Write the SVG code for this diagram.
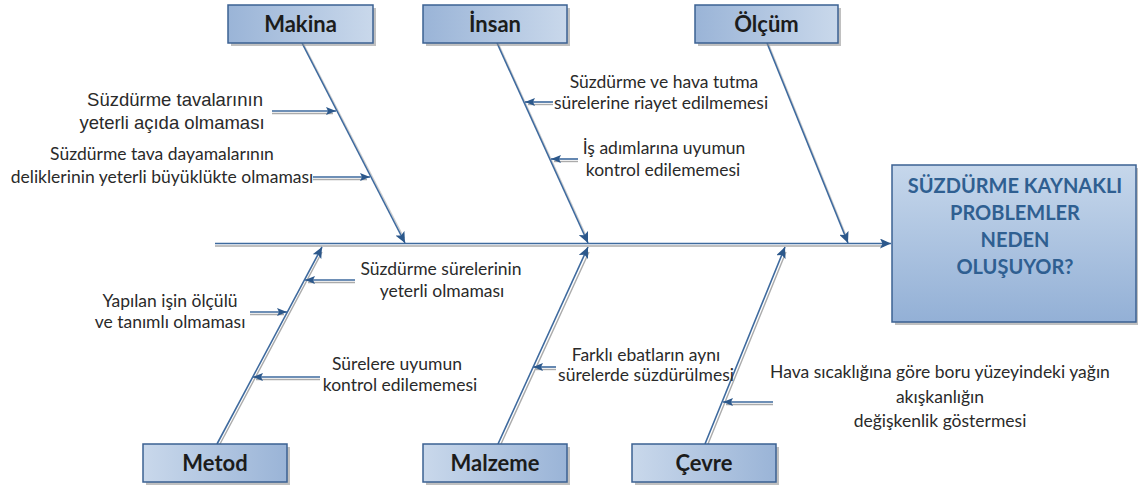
<svg xmlns="http://www.w3.org/2000/svg" width="1138" height="492" viewBox="0 0 1138 492">
<style>
.lbl{font-family:Lato,"Open Sans","Liberation Sans",sans-serif;font-size:17.5px;fill:#2a2a2a;text-anchor:middle}
.arial{font-family:"Liberation Sans",Arial,sans-serif;font-size:18.5px;fill:#2a2a2a;text-anchor:middle}
.cat{font-family:Lato,"Liberation Sans",sans-serif;font-weight:bold;font-size:22px;fill:#1c1c1c;text-anchor:middle}
.title{font-family:Lato,"Liberation Sans",sans-serif;font-weight:bold;font-size:20px;fill:#2F5F91;text-anchor:middle}
.box{stroke:#3B6192;stroke-width:1.5}
.shadow{fill:#8c8c8c;opacity:.55}
.ln{stroke:#3E6A9E;stroke-width:1.6;fill:none}
.sh{stroke:#ABABAB;stroke-width:1.4;fill:none}
</style>
<defs>
<linearGradient id="gTop" x1="0" y1="0" x2="1" y2="0"><stop offset="0" stop-color="#9AB4D7"/><stop offset="1" stop-color="#C9D8EB"/></linearGradient>
<linearGradient id="gBot" x1="0" y1="0" x2="1" y2="0"><stop offset="0" stop-color="#C9D8EB"/><stop offset="1" stop-color="#9AB4D7"/></linearGradient>
<linearGradient id="gMain" x1="0" y1="0" x2="0" y2="1"><stop offset="0" stop-color="#C6D7EB"/><stop offset="1" stop-color="#93B0D6"/></linearGradient>
<marker id="ah" markerUnits="userSpaceOnUse" markerWidth="12" markerHeight="10" refX="11" refY="5" orient="auto"><path d="M0,0 L11,5 L0,10 L2.5,5 z" fill="#2C588B"/></marker>
<marker id="ahs" markerUnits="userSpaceOnUse" markerWidth="10" markerHeight="8" refX="10" refY="4" orient="auto"><path d="M0,0 L10,4 L0,8 L2,4 z" fill="#2C588B"/></marker>
</defs>
<rect width="1138" height="492" fill="#ffffff"/>

<g id="connectors">
  <line class="sh" x1="215" y1="246" x2="884" y2="246"/>
  <line class="ln" x1="215" y1="243.5" x2="891" y2="243.5" marker-end="url(#ah)"/>
  <line class="sh" x1="303.5" y1="44" x2="404" y2="238" opacity=".6"/>
  <line class="ln" x1="302" y1="43" x2="405" y2="243" marker-end="url(#ah)"/>
  <line class="sh" x1="498.5" y1="44" x2="587" y2="238" opacity=".6"/>
  <line class="ln" x1="497" y1="43" x2="588" y2="243" marker-end="url(#ah)"/>
  <line class="sh" x1="768.5" y1="44" x2="847" y2="238" opacity=".6"/>
  <line class="ln" x1="767" y1="43" x2="848" y2="243" marker-end="url(#ah)"/>
  <line class="sh" x1="220" y1="444" x2="322" y2="252"/>
  <line class="ln" x1="217" y1="444" x2="322" y2="247" marker-end="url(#ah)"/>
  <line class="sh" x1="501" y1="444" x2="589" y2="252"/>
  <line class="ln" x1="498" y1="444" x2="588" y2="247" marker-end="url(#ah)"/>
  <line class="sh" x1="708" y1="444" x2="786" y2="252"/>
  <line class="ln" x1="705" y1="444" x2="785" y2="247" marker-end="url(#ah)"/>
  <line class="sh" x1="272" y1="113.5" x2="333" y2="113.5"/>
  <line class="ln" x1="272" y1="111" x2="336" y2="111" marker-end="url(#ahs)"/>
  <line class="sh" x1="313" y1="179.5" x2="367" y2="179.5"/>
  <line class="ln" x1="313" y1="177" x2="370" y2="177" marker-end="url(#ahs)"/>
  <line class="sh" x1="553" y1="104.5" x2="528" y2="104.5"/>
  <line class="ln" x1="553" y1="102" x2="525" y2="102" marker-end="url(#ahs)"/>
  <line class="sh" x1="578" y1="161.5" x2="554" y2="161.5"/>
  <line class="ln" x1="578" y1="159" x2="551" y2="159" marker-end="url(#ahs)"/>
  <line class="sh" x1="355" y1="282.5" x2="308" y2="282.5"/>
  <line class="ln" x1="355" y1="280" x2="305" y2="280" marker-end="url(#ahs)"/>
  <line class="sh" x1="250" y1="314.5" x2="284" y2="314.5"/>
  <line class="ln" x1="250" y1="312" x2="287" y2="312" marker-end="url(#ahs)"/>
  <line class="sh" x1="320" y1="379.5" x2="256" y2="379.5"/>
  <line class="ln" x1="320" y1="377" x2="253" y2="377" marker-end="url(#ahs)"/>
  <line class="sh" x1="556" y1="369.5" x2="536" y2="369.5"/>
  <line class="ln" x1="556" y1="367" x2="533" y2="367" marker-end="url(#ahs)"/>
  <line class="sh" x1="773" y1="404.5" x2="726" y2="404.5"/>
  <line class="ln" x1="773" y1="402" x2="723" y2="402" marker-end="url(#ahs)"/>
</g>

<g id="node-makina">
  <rect class="shadow" x="231" y="8" width="145" height="38"/>
  <rect class="box" x="228" y="5" width="145" height="38" fill="url(#gTop)"/>
  <text class="cat" x="300.5" y="32">Makina</text>
</g>
<g id="node-insan">
  <rect class="shadow" x="426" y="8" width="144" height="38"/>
  <rect class="box" x="423" y="5" width="144" height="38" fill="url(#gTop)"/>
  <text class="cat" x="495" y="32">İnsan</text>
</g>
<g id="node-olcum">
  <rect class="shadow" x="698" y="8" width="143" height="38"/>
  <rect class="box" x="695" y="5" width="143" height="38" fill="url(#gTop)"/>
  <text class="cat" x="766.5" y="32">Ölçüm</text>
</g>
<g id="node-metod">
  <rect class="shadow" x="146" y="447" width="144" height="38"/>
  <rect class="box" x="143" y="444" width="144" height="38" fill="url(#gBot)"/>
  <text class="cat" x="215" y="471">Metod</text>
</g>
<g id="node-malzeme">
  <rect class="shadow" x="426" y="447" width="144" height="38"/>
  <rect class="box" x="423" y="444" width="144" height="38" fill="url(#gBot)"/>
  <text class="cat" x="495" y="471">Malzeme</text>
</g>
<g id="node-cevre">
  <rect class="shadow" x="635" y="447" width="144" height="38"/>
  <rect class="box" x="632" y="444" width="144" height="38" fill="url(#gBot)"/>
  <text class="cat" x="704" y="471">Çevre</text>
</g>
<g id="node-problem">
  <rect class="shadow" x="895" y="168" width="243" height="157"/>
  <rect class="box" x="892" y="165" width="244" height="157" fill="url(#gMain)"/>
  <text class="title" x="1015" y="193">SÜZDÜRME KAYNAKLI</text>
  <text class="title" x="1015" y="220">PROBLEMLER</text>
  <text class="title" x="1015" y="247">NEDEN</text>
  <text class="title" x="1015" y="274">OLUŞUYOR?</text>
</g>

<g id="causes">
  <text class="arial" x="175" y="106">Süzdürme tavalarının</text>
  <text class="arial" x="172" y="129">yeterli açıda olmaması</text>
  <text class="lbl" x="162" y="160">Süzdürme tava dayamalarının</text>
  <text class="lbl" x="162" y="183">deliklerinin yeterli büyüklükte olmaması</text>
  <text class="lbl" x="664" y="88">Süzdürme ve hava tutma</text>
  <text class="lbl" x="661" y="109">sürelerine riayet edilmemesi</text>
  <text class="lbl" x="664" y="154">İş adımlarına uyumun</text>
  <text class="lbl" x="663" y="176">kontrol edilememesi</text>
  <text class="lbl" x="441" y="275">Süzdürme sürelerinin</text>
  <text class="lbl" x="442" y="297">yeterli olmaması</text>
  <text class="lbl" x="170" y="307">Yapılan işin ölçülü</text>
  <text class="lbl" x="170" y="328">ve tanımlı olmaması</text>
  <text class="lbl" x="397" y="370">Sürelere uyumun</text>
  <text class="lbl" x="400" y="391">kontrol edilememesi</text>
  <text class="lbl" x="646" y="361">Farklı ebatların aynı</text>
  <text class="lbl" x="646" y="381">sürelerde süzdürülmesi</text>
  <text class="lbl" x="940" y="378">Hava sıcaklığına göre boru yüzeyindeki yağın</text>
  <text class="lbl" x="940" y="403">akışkanlığın</text>
  <text class="lbl" x="940" y="427">değişkenlik göstermesi</text>
</g>
</svg>
